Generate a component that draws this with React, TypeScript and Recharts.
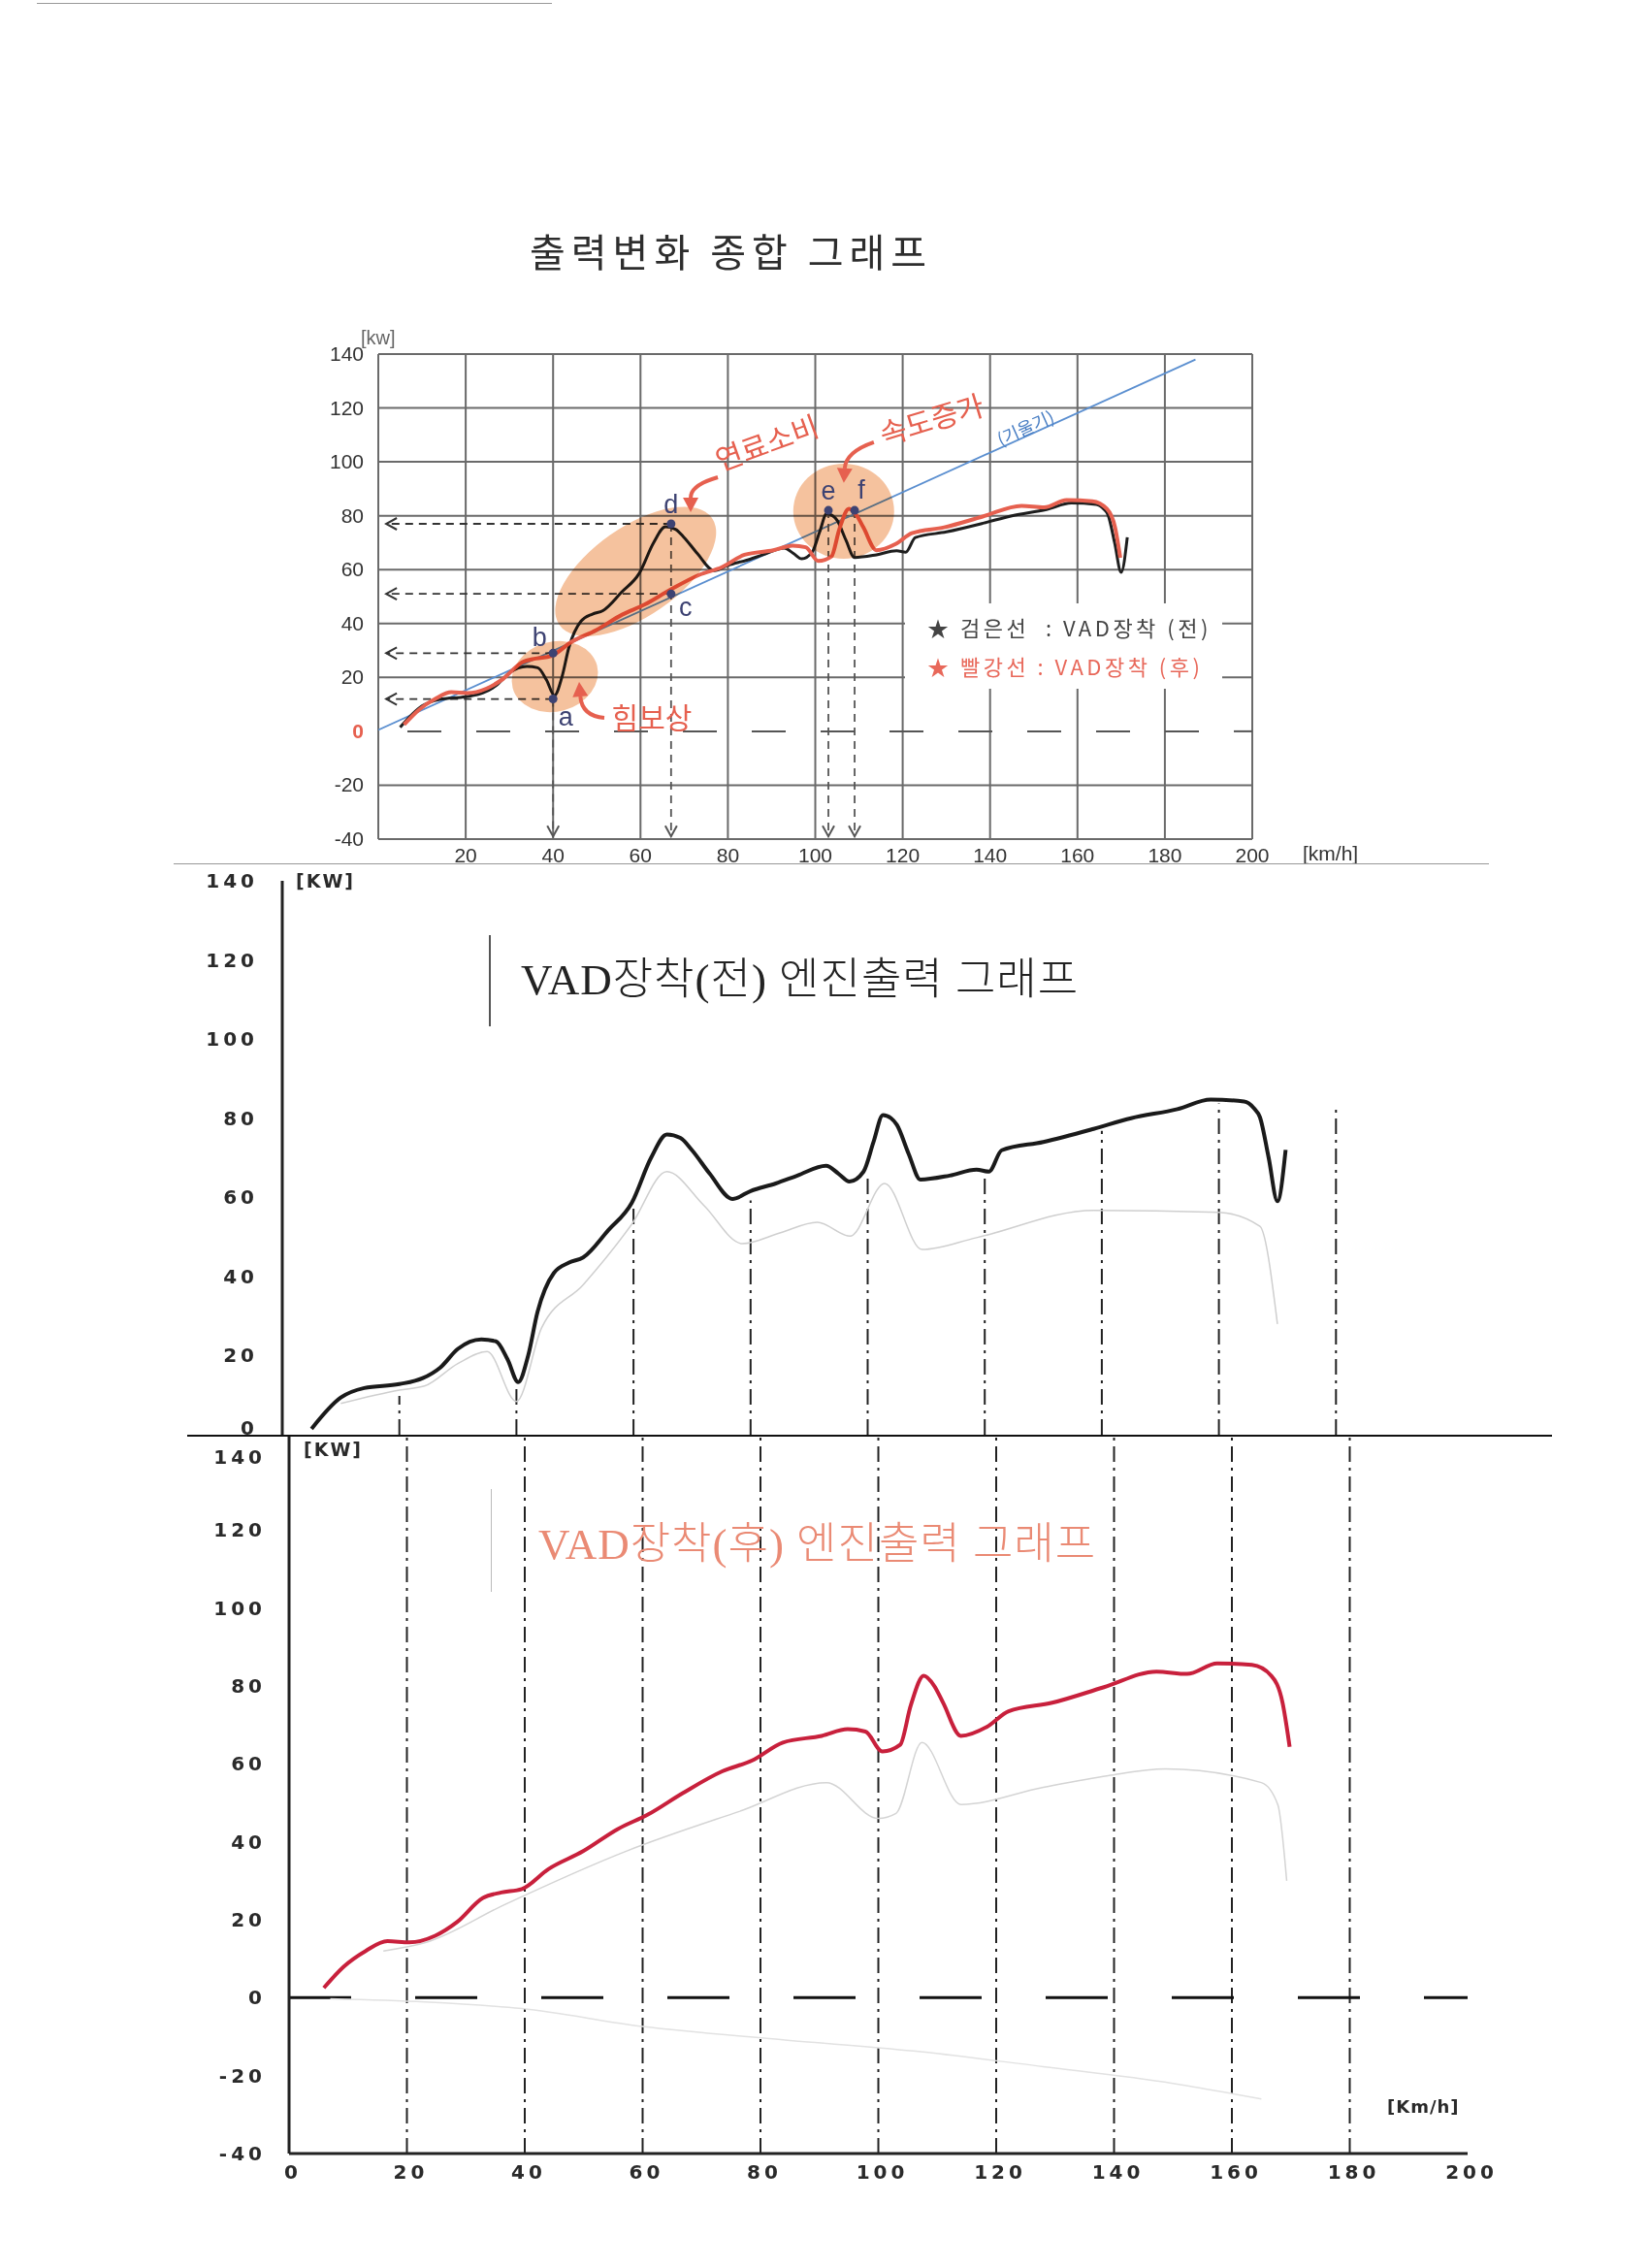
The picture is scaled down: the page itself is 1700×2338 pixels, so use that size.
import React from 'react';
import { LineChart, Line, XAxis, YAxis, CartesianGrid, ReferenceLine, ReferenceDot } from 'recharts';

// axis ticks
const speedTicks = [20, 40, 60, 80, 100, 120, 140, 160, 180, 200];
const speedTicksFull = [0, 20, 40, 60, 80, 100, 120, 140, 160, 180, 200];
const gridSpeeds = [0, 20, 40, 60, 80, 100, 120, 140, 160, 180, 200];
const powerTicks = [-40, -20, 0, 20, 40, 60, 80, 100, 120, 140];
const powerGrid = [-40, -20, 20, 40, 60, 80, 100, 120, 140];
const powerTicksPos = [0, 20, 40, 60, 80, 100, 120, 140];
const guideSpeeds = [20, 40, 60, 80, 100, 120, 140, 160, 180];

// VAD 장착 전 (검은선) [km/h, kW]
const beforeVAD: [number, number][] = [
  [5, 1.5], [10, 9.4], [14, 11.8], [20, 12.8], [24, 14.3], [27, 17], [30, 21.7], [34, 24.1],
  [36.5, 23.6], [38.5, 19], [40.3, 13.3], [42, 20], [43.6, 31], [46.4, 40.9], [49, 43.5],
  [51.4, 44.8], [55.7, 51.7], [59.7, 58.6], [63, 70], [65.7, 75.9], [68, 75], [70, 71.9],
  [73, 66], [76.9, 59.6], [80, 61.6], [84.3, 63.5], [88, 65.5], [92.9, 68], [95, 66],
  [96.9, 64], [99.3, 66.5], [101, 74], [102.6, 80.8], [104, 80], [105, 78.3], [107, 71],
  [109, 64.5], [114, 65.5], [118.6, 67], [120.7, 66.5], [122.9, 71.9], [130, 74], [138.6, 77.3],
  [145, 80], [152.9, 82.3], [158.6, 84.7], [164.3, 84.2], [166, 82.5], [167, 80.3],
  [168.5, 70], [170, 59], [171.4, 72],
];

// VAD 장착 후 (빨강선)
const afterVAD: [number, number][] = [
  [5.9, 2.5], [9.3, 8], [13, 12], [16.7, 14.5], [20.4, 14.2], [24.8, 15.9], [28.5, 19.4],
  [32.9, 25.6], [36, 27], [39.5, 27.9], [44, 33], [49.9, 37.6], [55.8, 43.3], [60.9, 47],
  [66.8, 52.5], [73.5, 58.1], [78.6, 60.9], [83.8, 65.5], [90.4, 67.2], [94.8, 68.9],
  [97.8, 68.3], [100.7, 63.2], [103.7, 64.9], [105.5, 75], [107.7, 82.6], [109.5, 80],
  [111, 75.7], [114, 67.2], [118.4, 69.5], [122.1, 73.5], [129.5, 75.7], [138.3, 79.7],
  [147.2, 83.7], [152.4, 83.1], [157.5, 85.8], [163.4, 85.4], [166.7, 82.6], [168.6, 75.7],
  [169.8, 64.4],
];

// 기울기 line
const slopeLine: [number, number][] = [[0, 0.5], [187, 138]];

// faint traces left on the scanned dyno sheets
const beforeGhost: [number, number][] = [
  [10, 7.9], [20, 11.3], [24.3, 12.3], [30, 18], [35, 21], [40, 8.4], [44.3, 27], [51.4, 37.9],
  [59.7, 53.2], [65.7, 66.5], [72, 58], [78.6, 48.3], [85, 51], [91.4, 53.7], [97, 50.2],
  [102.9, 63.5], [109.3, 46.8], [118.6, 49.8], [138.6, 56.7], [160, 56.2], [167, 52.7], [170, 28],
];
const afterGhost: [number, number][] = [
  [16, 12], [23.3, 14.2], [36.6, 23.9], [57.2, 37.6], [76.4, 47.8], [91.2, 55.2], [100, 46],
  [103, 47.3], [107.4, 65.5], [114, 49.6], [128, 54], [139, 57], [148.7, 58.7], [165, 55.2],
  [167.8, 49.5], [169.3, 30],
];
const afterGhostLow: [number, number][] = [
  [7, -0.3], [23, -1.1], [39.5, -2.8], [60, -7.4], [83.8, -10.8], [106, -13.7], [128, -17.7],
  [150, -22], [165, -26],
];

// where the hand-drawn guides on the 전 sheet stop (kW)
const midGuideTop = [9.8, 12.7, 57.7, 59.2, 66, 66.5, 76.8, 83.7, 83.2];

// marked points a..f on the summary chart
const keyPoints = [
  { id: 'a', x: 40, y: 12 },
  { id: 'b', x: 40, y: 29 },
  { id: 'c', x: 67, y: 51 },
  { id: 'd', x: 67, y: 77 },
  { id: 'e', x: 103, y: 82 },
  { id: 'f', x: 109, y: 82 },
];
const hArrowIds = ['a', 'b', 'c', 'd'];
const vArrowIds = ['a', 'd', 'e', 'f'];

const toPts = (a: [number, number][]) => a.map(([x, y]) => ({ x, y }));
const pt = (id: string) => keyPoints.find((k) => k.id === id)!;

const RED = '#e6604f';
const NAVY = '#3d4272';

const labelOffset: Record<string, [number, number]> = {
  a: [13, 18], b: [-14, -16], c: [15, 14], d: [0, -20], e: [0, -20], f: [7, -21],
};

const blobs = [
  { x: 58.9, y: 59.3, rx: 96, ry: 46, angle: -35 },
  { x: 40.4, y: 20.3, rx: 45, ry: 36, angle: -15 },
  { x: 106.5, y: 81.7, rx: 52, ry: 49, angle: 0 },
];

const notes = [
  { text: '연료소비', x: 88.8, y: 107.6, angle: -20, size: 30, color: RED, arrow: [-50, 37, -78, 45, -78, 73] },
  { text: '속도증가', x: 126.5, y: 116.3, angle: -17, size: 30, color: RED, arrow: [-59, 25, -88, 35, -90, 67] },
  { text: '힘보상', x: 62.6, y: 5.7, angle: 0, size: 30, color: RED, arrow: [-49, 2, -72, 0, -75, -35] },
  { text: '(기울기)', x: 148, y: 113, angle: -24, size: 18, color: '#4a7fc4', arrow: null },
];

const PointMark = (id: string) => (p: any) => {
  const [dx, dy] = labelOffset[id];
  return (
    <g>
      <circle cx={p.cx} cy={p.cy} r={4.5} fill={NAVY} />
      <text x={p.cx + dx} y={p.cy + dy} textAnchor="middle" dominantBaseline="central"
        fontSize={27} fontFamily="Liberation Sans, Arial" fill={NAVY}>{id}</text>
    </g>
  );
};

const Blob = (rx: number, ry: number, angle: number) => (p: any) => (
  <ellipse cx={p.cx} cy={p.cy} rx={rx} ry={ry} transform={`rotate(${angle} ${p.cx} ${p.cy})`}
    fill="#f5c29e" style={{ mixBlendMode: 'multiply' }} />
);

const Note = (n: typeof notes[number]) => (p: any) => {
  const { cx, cy } = p;
  let arrow = null;
  if (n.arrow) {
    const [sx, sy, qx, qy, ex, ey] = n.arrow;
    const ang = Math.atan2(ey - qy, ex - qx);
    const tx = cx + ex, ty = cy + ey;
    const l = 15, w = 8;
    const bx = tx - l * Math.cos(ang), by = ty - l * Math.sin(ang);
    const head = `M${tx},${ty} L${bx - w * Math.sin(ang)},${by + w * Math.cos(ang)} L${bx + w * Math.sin(ang)},${by - w * Math.cos(ang)} Z`;
    arrow = (
      <g>
        <path d={`M${cx + sx},${cy + sy} Q${cx + qx},${cy + qy} ${bx},${by}`} fill="none" stroke={n.color} strokeWidth={4} />
        <path d={head} fill={n.color} />
      </g>
    );
  }
  return (
    <g>
      {arrow}
      <text x={cx} y={cy} textAnchor="middle" dominantBaseline="central" fontSize={n.size}
        fontFamily="Noto Sans CJK KR" fill={n.color} transform={`rotate(${n.angle} ${cx} ${cy})`}>{n.text}</text>
    </g>
  );
};

const DashArrow = (p: any) => {
  const { x1, y1, x2, y2 } = p;
  const horizontal = Math.abs(y1 - y2) < 1;
  const tx = horizontal ? Math.min(x1, x2) : x1;
  const ty = horizontal ? y1 : Math.max(y1, y2);
  const head = horizontal
    ? `M${tx + 11},${ty - 6} L${tx},${ty} L${tx + 11},${ty + 6}`
    : `M${tx - 6},${ty - 11} L${tx},${ty} L${tx + 6},${ty - 11}`;
  const col = horizontal ? '#333' : '#555';
  return (
    <g>
      <line x1={x1} y1={y1} x2={x2} y2={y2} stroke={col} strokeWidth={1.8} strokeDasharray="8 6" />
      <path d={head} fill="none" stroke={col} strokeWidth={2} />
    </g>
  );
};

const TopYTick = (p: any) => (
  <text x={p.x} y={p.y} dy={7} textAnchor="end" fontSize={21} fontFamily="Liberation Sans, Arial"
    fill={p.payload.value === 0 ? RED : '#333'} fontWeight={p.payload.value === 0 ? 700 : 400}>
    {p.payload.value}
  </text>
);
const TopXTick = (p: any) => (
  <text x={p.x} y={p.y} dy={22} textAnchor="middle" fontSize={21} fontFamily="Liberation Sans, Arial" fill="#333">
    {p.payload.value}
  </text>
);
// hand-lettered tick labels; a shifted value keeps the 0 / 140 of the stacked sheets apart
const handYTick = (shiftValue: number, shift: number) => (p: any) => (
  <text x={p.x} y={p.y} dy={p.payload.value === shiftValue ? 7 + shift : 7} textAnchor="end" fontSize={20}
    fontWeight={700} letterSpacing={4} fontFamily="DejaVu Sans" fill="#2a2a2a">{p.payload.value}</text>
);
const HandXTick = (p: any) => (
  <text x={p.x + 4} y={p.y} dy={24} textAnchor="middle" fontSize={20} fontWeight={700} letterSpacing={4}
    fontFamily="DejaVu Sans" fill="#2a2a2a">{p.payload.value}</text>
);

const Txt = ({ x, y, size, color = '#333', family = 'Noto Sans CJK KR', weight = 400, spacing = 0, children }: any) => (
  <div style={{
    position: 'absolute', left: x, top: y, transform: 'translateY(-50%)', fontSize: size, color,
    fontFamily: family, fontWeight: weight, letterSpacing: spacing, whiteSpace: 'nowrap', lineHeight: 1.2,
  }}>{children}</div>
);

const Rule = ({ x, y, w, h, color }: any) => (
  <div style={{ position: 'absolute', left: x, top: y, width: w, height: h, background: color }} />
);

const SummaryChart = () => (
  <div style={{ position: 'absolute', left: 0, top: 300 }}>
    <LineChart width={1700} height={620} margin={{ top: 65, right: 409, bottom: 25, left: 330 }}>
      <CartesianGrid stroke="#6a6a6a" strokeWidth={2} horizontalValues={powerGrid} verticalValues={gridSpeeds} />
      <XAxis type="number" dataKey="x" domain={[0, 200]} ticks={speedTicks} allowDataOverflow
        axisLine={false} tickLine={false} tickSize={0} tick={TopXTick} height={30} />
      <YAxis type="number" domain={[-40, 140]} ticks={powerTicks} allowDataOverflow
        axisLine={false} tickLine={false} tickSize={0} tickMargin={15} tick={TopYTick} width={60} />
      <ReferenceLine y={0} stroke="#555" strokeWidth={2} strokeDasharray="35 36" strokeDashoffset={-30} />
      <Line data={toPts(slopeLine)} dataKey="y" type="linear" stroke="#5b8fd0" strokeWidth={1.8} dot={false} isAnimationActive={false} />
      {hArrowIds.map((id) => (
        <ReferenceLine key={'h' + id} segment={[{ x: pt(id).x, y: pt(id).y }, { x: 1.8, y: pt(id).y }]} shape={DashArrow} />
      ))}
      {vArrowIds.map((id) => (
        <ReferenceLine key={'v' + id} segment={[{ x: pt(id).x, y: pt(id).y }, { x: pt(id).x, y: -39 }]} shape={DashArrow} />
      ))}
      <Line data={toPts(beforeVAD)} dataKey="y" type="monotone" stroke="#1e1e1e" strokeWidth={3} dot={false} isAnimationActive={false} />
      <Line data={toPts(afterVAD)} dataKey="y" type="monotone" stroke={RED} strokeWidth={4} dot={false} isAnimationActive={false} />
      {blobs.map((b, i) => (
        <ReferenceDot key={'blob' + i} x={b.x} y={b.y} shape={Blob(b.rx, b.ry, b.angle)} />
      ))}
      {keyPoints.map((k) => (
        <ReferenceDot key={k.id} x={k.x} y={k.y} shape={PointMark(k.id)} />
      ))}
      {notes.map((n) => (
        <ReferenceDot key={n.text} x={n.x} y={n.y} shape={Note(n)} />
      ))}
    </LineChart>
  </div>
);

const BeforeChart = () => (
  <div style={{ position: 'absolute', left: 0, top: 860 }}>
    <LineChart width={1700} height={660} margin={{ top: 48, right: 202, bottom: 41, left: 231 }}>
      <XAxis type="number" dataKey="x" domain={[0, 200]} allowDataOverflow hide />
      <YAxis type="number" domain={[0, 140]} ticks={powerTicksPos} allowDataOverflow
        axisLine={{ stroke: '#222', strokeWidth: 3 }} tickLine={false} tickSize={0} tickMargin={25}
        tick={handYTick(0, -7)} width={60} />
      {guideSpeeds.map((s, i) => (
        <ReferenceLine key={s} segment={[{ x: s, y: 0 }, { x: s, y: midGuideTop[i] }]} stroke="#222" strokeWidth={2} strokeDasharray="16 6 3 6" />
      ))}
      <Line data={toPts(beforeGhost)} dataKey="y" type="monotone" stroke="#cfcfcf" strokeWidth={1.5} dot={false} isAnimationActive={false} />
      <Line data={toPts(beforeVAD)} dataKey="y" type="monotone" stroke="#1a1a1a" strokeWidth={4} dot={false} isAnimationActive={false} />
    </LineChart>
  </div>
);

const AfterChart = () => (
  <div style={{ position: 'absolute', left: 0, top: 1440 }}>
    <LineChart width={1700} height={860} margin={{ top: 41, right: 187, bottom: 40, left: 238 }}>
      <XAxis type="number" dataKey="x" domain={[0, 200]} ticks={speedTicksFull} allowDataOverflow
        axisLine={{ stroke: '#222', strokeWidth: 3 }} tickLine={false} tickSize={0} tick={HandXTick} height={40} />
      <YAxis type="number" domain={[-40, 144]} ticks={powerTicks} allowDataOverflow
        axisLine={{ stroke: '#222', strokeWidth: 3 }} tickLine={false} tickSize={0} tickMargin={24}
        tick={handYTick(140, 5)} width={60} />
      {guideSpeeds.map((s) => (
        <ReferenceLine key={s} x={s} stroke="#222" strokeWidth={2} strokeDasharray="16 6 3 6" />
      ))}
      <ReferenceLine y={0} stroke="#111" strokeWidth={3} strokeDasharray="64 66" />
      <Line data={toPts(afterGhostLow)} dataKey="y" type="monotone" stroke="#e2e2e2" strokeWidth={1.5} dot={false} isAnimationActive={false} />
      <Line data={toPts(afterGhost)} dataKey="y" type="monotone" stroke="#d4d4d4" strokeWidth={1.5} dot={false} isAnimationActive={false} />
      <Line data={toPts(afterVAD)} dataKey="y" type="monotone" stroke="#c8203c" strokeWidth={4} dot={false} isAnimationActive={false} />
    </LineChart>
  </div>
);

export default function App() {
  return (
    <div style={{ position: 'absolute', left: 0, top: 0, width: 1700, height: 2338, background: '#fff', overflow: 'hidden' }}>
      <Rule x={38} y={3} w={531} h={1} color="#999" />
      <Txt x={546} y={258} size={40} color="#2d2d2d" spacing={6}>출력변화 종합 그래프</Txt>
      <SummaryChart />
      <Txt x={372} y={348} size={20} color="#666" family="Liberation Sans, Arial">[kw]</Txt>
      <Txt x={1343} y={880} size={21} color="#333" family="Liberation Sans, Arial">[km/h]</Txt>
      <div style={{ position: 'absolute', left: 933, top: 622, width: 327, height: 88, background: '#fff' }} />
      <Txt x={956} y={646} size={22} color="#444" spacing={3.5}>★ 검은선 &nbsp;: VAD장착 (전)</Txt>
      <Txt x={956} y={686} size={22} color="#e8685a" spacing={3.5}>★ 빨강선 : VAD장착 (후)</Txt>
      <Rule x={179} y={890} w={1356} h={1} color="#999" />

      <BeforeChart />
      <Txt x={305} y={908} size={19} color="#2a2a2a" family="DejaVu Sans" weight={700} spacing={2}>[KW]</Txt>
      <Rule x={504} y={964} w={2} h={94} color="#555" />
      <Txt x={537} y={1010} size={45} color="#222" family="'Liberation Serif', 'Noto Sans CJK KR'" weight={300} spacing={1}>VAD장착(전) 엔진출력 그래프</Txt>
      <Rule x={193} y={1479} w={1407} h={2} color="#111" />

      <AfterChart />
      <Txt x={313} y={1494} size={19} color="#2a2a2a" family="DejaVu Sans" weight={700} spacing={2}>[KW]</Txt>
      <Rule x={506} y={1535} w={1} h={106} color="#bbb" />
      <Txt x={555} y={1592} size={45} color="#ea8a74" family="'Liberation Serif', 'Noto Sans CJK KR'" weight={300} spacing={1}>VAD장착(후) 엔진출력 그래프</Txt>
      <Txt x={1430} y={2172} size={18} color="#2a2a2a" family="DejaVu Sans" weight={700} spacing={1}>[Km/h]</Txt>
    </div>
  );
}
